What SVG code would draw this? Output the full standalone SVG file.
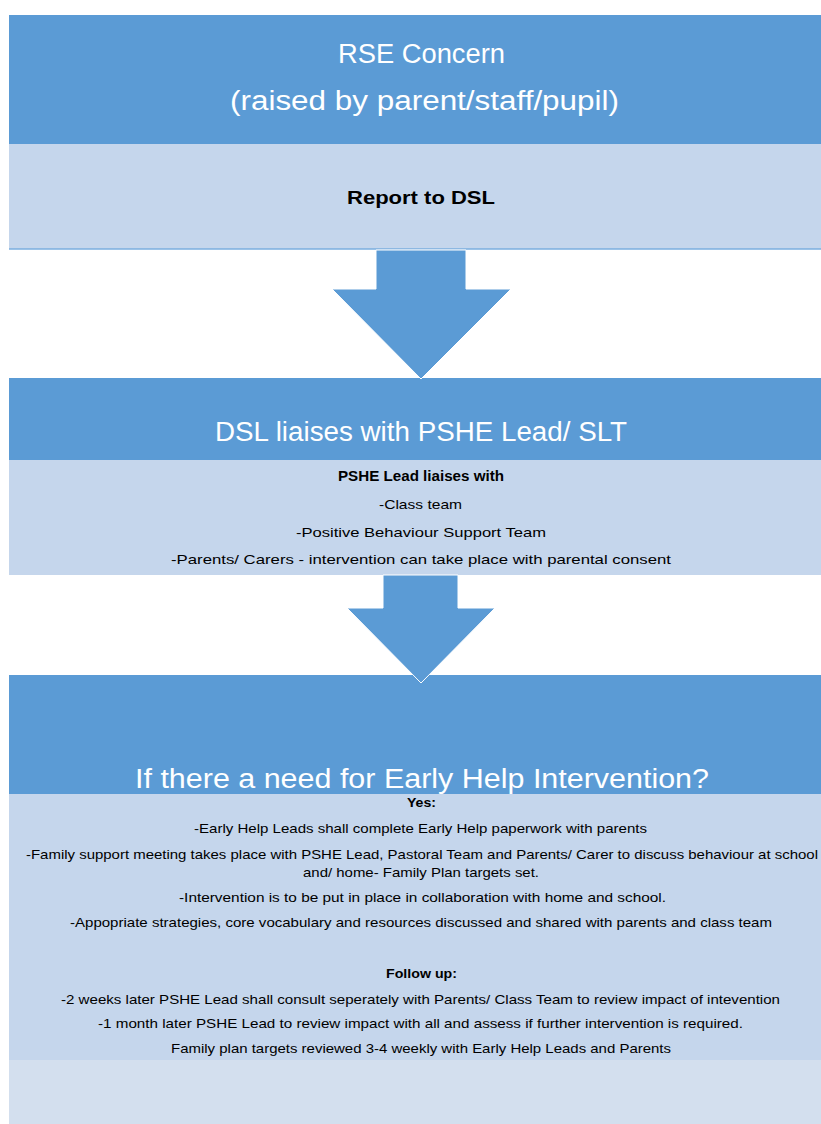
<svg xmlns="http://www.w3.org/2000/svg" width="821" height="1124" viewBox="0 0 821 1124">
<style>
.dark{fill:#5B9BD5}
.light{fill:#C5D6EC}
.pale{fill:#D3DFEE}
.arrow{fill:#5B9BD5;stroke:#FFFFFF;stroke-width:1}
text{font-family:"Liberation Sans",Arial,sans-serif;text-anchor:middle}
.h{fill:#FFFFFF;font-size:27px}
.b{fill:#000000;font-weight:bold}
.t{fill:#000000;font-size:13px}
</style>
<rect width="821" height="1124" fill="#FFFFFF"/>
<g id="node-rse">
<rect class="dark" x="9" y="15" width="812" height="129"/>
<text class="h" x="421.5" y="63" textLength="167" lengthAdjust="spacingAndGlyphs">RSE Concern</text>
<text class="h" x="424.5" y="110" textLength="389" lengthAdjust="spacingAndGlyphs">(raised by parent/staff/pupil)</text>
</g>
<g id="node-report">
<rect class="light" x="9" y="144" width="812" height="105"/>
<line x1="9" y1="249" x2="821" y2="249" stroke="#7AAEDF" stroke-width="1.5"/>
<text class="b" x="421" y="204" font-size="19" textLength="148" lengthAdjust="spacingAndGlyphs">Report to DSL</text>
</g>
<g id="node-dsl">
<rect class="dark" x="9" y="378" width="812" height="82"/>
<text class="h" x="421" y="441" textLength="412" lengthAdjust="spacingAndGlyphs">DSL liaises with PSHE Lead/ SLT</text>
</g>
<g id="node-pshe">
<rect class="light" x="9" y="460" width="812" height="115"/>
<text class="b" x="421" y="481" font-size="14" textLength="166" lengthAdjust="spacingAndGlyphs">PSHE Lead liaises with</text>
<text class="t" x="420.5" y="509" textLength="83" lengthAdjust="spacingAndGlyphs">-Class team</text>
<text class="t" x="421" y="537" textLength="250" lengthAdjust="spacingAndGlyphs">-Positive Behaviour Support Team</text>
<text class="t" x="421" y="564" textLength="500" lengthAdjust="spacingAndGlyphs">-Parents/ Carers - intervention can take place with parental consent</text>
</g>
<g id="node-earlyhelp">
<rect class="dark" x="9" y="675" width="812" height="119"/>
<text class="h" x="422" y="788" textLength="574" lengthAdjust="spacingAndGlyphs">If there a need for Early Help Intervention?</text>
</g>
<g id="node-yes">
<rect class="light" x="9" y="794" width="812" height="266"/>
<text class="b" x="421.5" y="807" font-size="13" textLength="29" lengthAdjust="spacingAndGlyphs">Yes:</text>
<text class="t" x="420.5" y="833" textLength="453" lengthAdjust="spacingAndGlyphs">-Early Help Leads shall complete Early Help paperwork with parents</text>
<text class="t" x="422" y="859" textLength="792" lengthAdjust="spacingAndGlyphs">-Family support meeting takes place with PSHE Lead, Pastoral Team and Parents/ Carer to discuss behaviour at school</text>
<text class="t" x="421" y="877" textLength="236" lengthAdjust="spacingAndGlyphs">and/ home- Family Plan targets set.</text>
<text class="t" x="422.5" y="902" textLength="487" lengthAdjust="spacingAndGlyphs">-Intervention is to be put in place in collaboration with home and school.</text>
<text class="t" x="421" y="927" textLength="702" lengthAdjust="spacingAndGlyphs">-Appopriate strategies, core vocabulary and resources discussed and shared with parents and class team</text>
<text class="b" x="421.5" y="978" font-size="13" textLength="71" lengthAdjust="spacingAndGlyphs">Follow up:</text>
<text class="t" x="420.5" y="1004" textLength="719" lengthAdjust="spacingAndGlyphs">-2 weeks later PSHE Lead shall consult seperately with Parents/ Class Team to review impact of intevention</text>
<text class="t" x="420.5" y="1028" textLength="645" lengthAdjust="spacingAndGlyphs">-1 month later PSHE Lead to review impact with all and assess if further intervention is required.</text>
<text class="t" x="421" y="1053" textLength="500" lengthAdjust="spacingAndGlyphs">Family plan targets reviewed  3-4 weekly with Early Help Leads and Parents</text>
</g>
<g id="node-blank">
<rect class="pale" x="9" y="1060" width="812" height="64"/>
</g>
<g id="connectors">
<polygon class="arrow" points="376,250 466,250 466,289 511,289 421,379 332,289 376,289"/>
<polygon class="arrow" points="383,575 458,575 458,608 495,608 421,683 347,608 383,608"/>
</g>
</svg>
